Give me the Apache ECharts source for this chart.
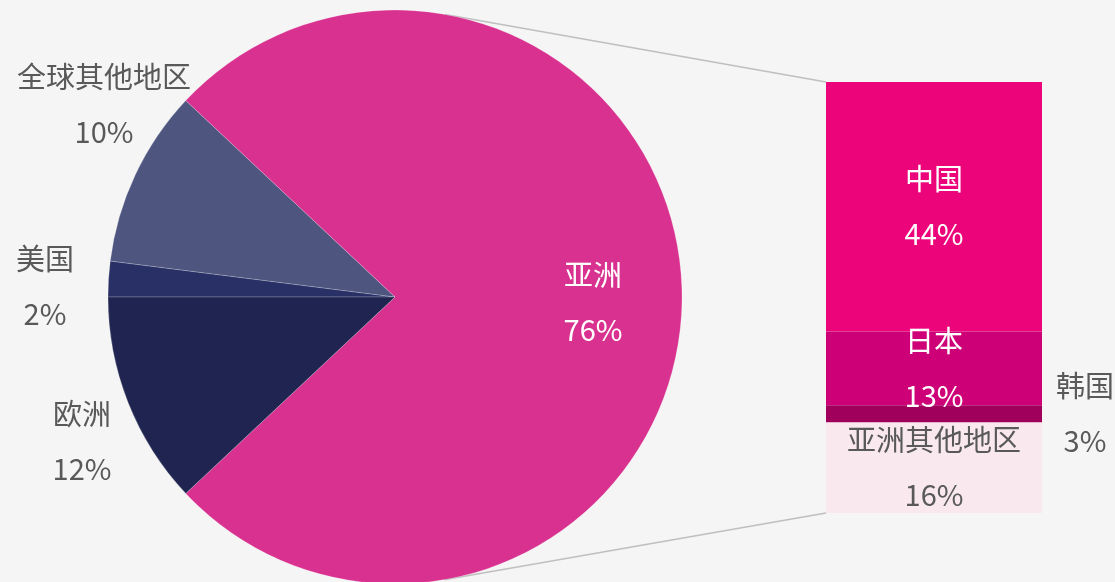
<!DOCTYPE html>
<html>
<head>
<meta charset="utf-8">
<style>
html,body{margin:0;padding:0;background:#F5F5F5;}
#c{width:1115px;height:582px;}
</style>
<script src="https://cdn.jsdelivr.net/npm/echarts@6/dist/echarts.min.js"></script>
</head>
<body>
<div id="c"></div>
<script>
// ---- data ----
const pieCategories = ['美国', '全球其他地区', '亚洲', '欧洲'];
const pieValues = [2, 10, 76, 12];
const barCategories = ['亚洲其他地区', '韩国', '日本', '中国'];
const barValues = [16, 3, 13, 44];
const barAxisCategory = ['亚洲'];

// ---- styles ----
const FONT = '"Noto Sans CJK SC", "Noto Sans", sans-serif';
const FS = 29;
const LH = 55;
const GREY = '#595959';
const pieColors = ['#283066', '#4E5680', '#D9318F', '#1F2550'];
const barColors = ['#F9E9EF', '#A0005B', '#CE0078', '#EC047A'];
const barLabelColors = [GREY, GREY, '#FFFFFF', '#FFFFFF'];
const barLabelPos = ['inside', 'right', 'inside', 'inside'];
const barLabelDist = [5, 43, 5, 5];

const PIE_CENTER = [395, 297];
const PIE_R = 287;

// label anchor placements (as in the reference layout)
const pieLabelPlace = {
  '美国': [45, 286],
  '全球其他地区': [104, 104],
  '亚洲': [593, 302],
  '欧洲': [82, 441]
};

const chart = echarts.init(document.getElementById('c'), null, {renderer: 'canvas'});

const option = {
  backgroundColor: '#F5F5F5',
  animation: false,
  grid: {left: 826, top: 82, width: 216, height: 431},
  xAxis: {type: 'category', data: barAxisCategory, show: false},
  yAxis: {type: 'value', min: 0, max: pieValues[2], show: false},
  series: [
    {
      type: 'pie',
      center: PIE_CENTER,
      radius: PIE_R,
      startAngle: 180,
      clockwise: true,
      avoidLabelOverlap: false,
      data: pieCategories.map((n, i) => ({name: n, value: pieValues[i], itemStyle: {color: pieColors[i]}})),
      itemStyle: {borderWidth: 0.6, borderColor: 'rgba(255,255,255,0.35)'},
      label: {
        show: true,
        formatter: p => p.name + '\n' + p.value + '%',
        fontFamily: FONT, fontSize: FS, lineHeight: LH,
        color: GREY, align: 'center'
      },
      labelLine: {show: false},
      labelLayout: function (params) {
        const name = pieCategories[params.dataIndex];
        const pos = pieLabelPlace[name];
        return {x: pos[0], y: pos[1], align: 'center', verticalAlign: 'middle'};
      },
      emphasis: {disabled: true}
    }
  ].concat(barCategories.map((n, i) => ({
    type: 'bar',
    name: n,
    stack: 'asia',
    barWidth: '100%',
    data: [barValues[i]],
    itemStyle: {color: barColors[i]},
    label: {
      show: true,
      position: barLabelPos[i],
      distance: barLabelDist[i],
      formatter: p => p.seriesName + '\n' + p.value + '%',
      fontFamily: FONT, fontSize: FS, lineHeight: LH,
      color: barLabelColors[i], align: 'center'
    },
    emphasis: {disabled: true}
  })))
};

// Asia slice label is inside the slice, white
option.series[0].data[2].label = {color: '#FFFFFF'};

chart.setOption(option);

// ---- connector lines: tangents from the bar corners to the pie circle ----
function tangentPoint(px, py, upper) {
  const cx = PIE_CENTER[0], cy = PIE_CENTER[1], r = PIE_R;
  const dx = px - cx, dy = cy - py; // math coords (y up)
  const d = Math.sqrt(dx * dx + dy * dy);
  const base = Math.atan2(dy, dx);
  const a = Math.acos(r / d);
  const ang = upper ? base + a : base - a;
  return [cx + r * Math.cos(ang), cy - r * Math.sin(ang)];
}
const grid = chart.getModel().getComponent('grid', 0).coordinateSystem.getRect();
const total = barValues.reduce((s, v) => s + v, 0);
const yTop = chart.convertToPixel({gridIndex: 0}, [0, total])[1];
const yBot = chart.convertToPixel({gridIndex: 0}, [0, 0])[1];
const xL = grid.x;
const t1 = tangentPoint(xL, yTop, true);
const t2 = tangentPoint(xL, yBot, false);
chart.setOption({
  graphic: [
    {type: 'line', z: -1, shape: {x1: t1[0], y1: t1[1], x2: xL, y2: yTop}, style: {stroke: '#BFBFBF', lineWidth: 1.5}},
    {type: 'line', z: -1, shape: {x1: t2[0], y1: t2[1], x2: xL, y2: yBot}, style: {stroke: '#BFBFBF', lineWidth: 1.5}}
  ]
});
</script>
</body>
</html>
